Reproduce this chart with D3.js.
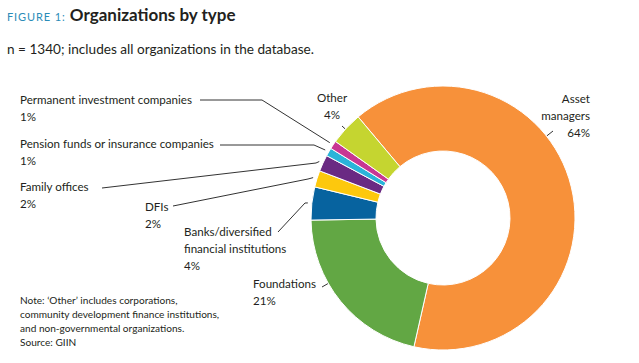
<!DOCTYPE html>
<html>
<head>
<meta charset="utf-8">
<script src="https://cdn.jsdelivr.net/npm/d3@7"></script>
<style>
  body { margin: 0; background: #fff; }
  svg text { font-family: Lato, "Noto Sans", sans-serif; fill: #231f20; }
</style>
</head>
<body>
<div id="chart"></div>
<script>
// data
const categories = ["Asset managers", "Foundations", "Banks/diversified financial institutions", "DFIs",
                    "Family offices", "Pension funds or insurance companies", "Permanent investment companies", "Other"];
const shares = [64, 21, 4, 2, 2, 1, 1, 4];
const shareLabels = ["64%", "21%", "4%", "2%", "2%", "1%", "1%", "4%"];
const sliceColors = ["#f7913a", "#62a744", "#07639f", "#fdc80d", "#6a2a83", "#2ab4d9", "#c83793", "#c5d530"];

const width = 639, height = 363;
const cx = 443, cy = 218, outerR = 132, innerR = 67;

const svg = d3.select("#chart").append("svg")
    .attr("width", width)
    .attr("height", height);

// title
const title = svg.append("text").attr("x", 7).attr("y", 21);
title.append("tspan").text("FIGURE 1:")
    .style("font-size", "11px").style("fill", "#2a8cb8").style("letter-spacing", "0.9px");
title.append("tspan").text(" Organizations by type")
    .style("font-size", "17px").style("font-weight", "bold");

svg.append("text").attr("x", 7).attr("y", 54)
    .style("font-size", "13.6px")
    .text("n = 1340; includes all organizations in the database.");

// donut
const pie = d3.pie()
    .sort(null)
    .startAngle(-40 * Math.PI / 180)
    .endAngle(320 * Math.PI / 180);
const arcs = pie(shares);
const arc = d3.arc().innerRadius(innerR).outerRadius(outerR);

const g = svg.append("g").attr("transform", `translate(${cx},${cy})`);
g.selectAll("path")
  .data(arcs)
  .enter()
  .append("path")
    .attr("d", arc)
    .attr("fill", (d, i) => sliceColors[i])
    .attr("stroke", "#fff")
    .attr("stroke-width", 1);

// point just outside a slice, at its middle angle
function edgePoint(d, r) {
    const a = (d.startAngle + d.endAngle) / 2;
    return [cx + r * Math.sin(a), cy - r * Math.cos(a)];
}
// point on the ring straight in from p
function radialPoint(p, r) {
    const dx = p[0] - cx, dy = p[1] - cy, len = Math.hypot(dx, dy);
    return [cx + dx * r / len, cy + dy * r / len];
}

// labels: text lines, anchor, and leader line path (start, knee) ending at the slice
const labels = [
  {lines: ["Asset", "managers", "64%"], x: 590, y: 103, anchor: "end", pts: [[553, 131]], radial: true},
  {lines: ["Foundations", "21%"], x: 253, y: 288, anchor: "start", pts: [[322, 287]], radial: true},
  {lines: ["Banks/diversified", "financial institutions", "4%"], x: 184, y: 236, anchor: "start", pts: [[278, 232], [305, 203]]},
  {lines: ["DFIs", "2%"], x: 145, y: 211, anchor: "start", pts: [[173, 206], [308, 179]]},
  {lines: ["Family offices", "2%"], x: 20, y: 191, anchor: "start", pts: [[102, 188], [316, 163]]},
  {lines: ["Pension funds or insurance companies", "1%"], x: 20, y: 148, anchor: "start", pts: [[220, 145], [314, 145]]},
  {lines: ["Permanent investment companies", "1%"], x: 20, y: 104, anchor: "start", pts: [[200, 100], [262, 100]]},
  {lines: ["Other", "4%"], x: 332, y: 102, anchor: "middle", pts: [[342, 126]], radial: true}
];

labels.forEach((l, i) => {
    const t = svg.append("text")
        .attr("text-anchor", l.anchor)
        .style("font-size", "11.6px");
    l.lines.forEach((s, j) => {
        t.append("tspan").attr("x", l.x).attr("y", l.y + j * 17).text(s);
    });
    const end = l.radial ? radialPoint(l.pts[0], outerR + 0.5) : edgePoint(arcs[i], outerR + 4);
    svg.append("path")
        .attr("d", d3.line()(l.pts.concat([end])))
        .attr("fill", "none")
        .attr("stroke", "#333")
        .attr("stroke-width", 1);
});

// note
const notes = ["Note: \u2018Other\u2019 includes corporations,",
               "community development finance institutions,",
               "and non-governmental organizations.",
               "Source: GIIN"];
svg.append("g").selectAll("text")
  .data(notes)
  .enter()
  .append("text")
    .attr("x", 20)
    .attr("y", (d, i) => 304 + i * 14)
    .style("font-size", "10.1px")
    .text(d => d);
</script>
</body>
</html>
